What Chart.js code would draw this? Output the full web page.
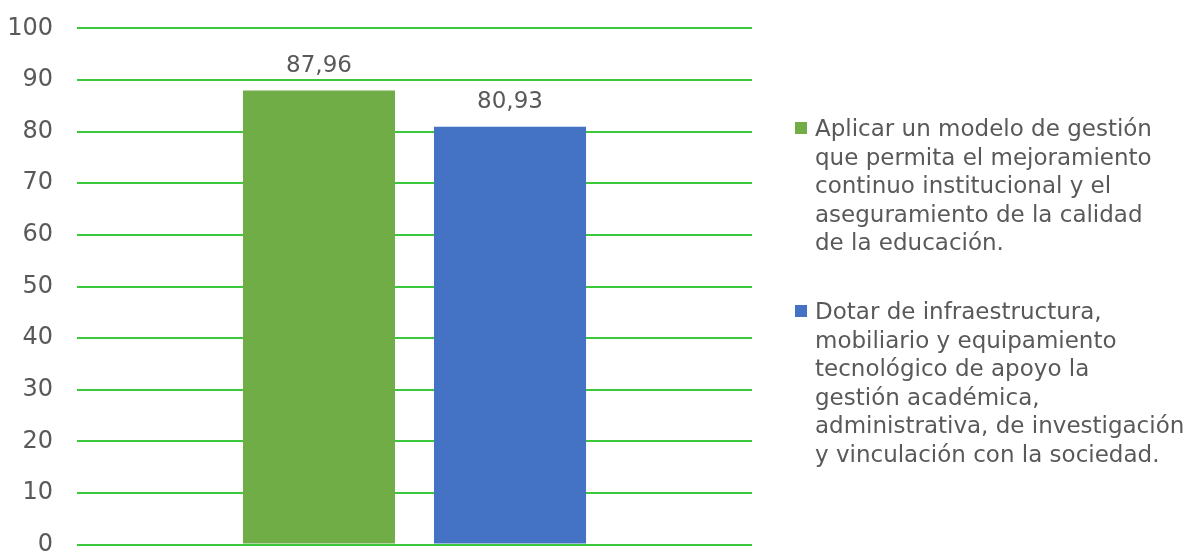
<!DOCTYPE html>
<html>
<head>
<meta charset="utf-8">
<script src="https://cdn.jsdelivr.net/npm/chart.js@4/dist/chart.umd.min.js"></script>
<style>
  html, body { margin: 0; padding: 0; background: #fff; overflow: hidden; }
  #wrap { position: relative; width: 1184px; height: 553px; overflow: hidden; }
  #chart-box { position: absolute; left: 0; top: -10px; width: 1184px; height: 593px; }
  #legend { position: absolute; left: 795px; top: 114px; width: 389px; white-space: nowrap;
    font-family: "DejaVu Sans", sans-serif; font-size: 23px; line-height: 28.6px; color: #595959; }
  .item { position: relative; padding-left: 20px; margin-bottom: 40px; }
  .box { position: absolute; left: 0; top: 8px; width: 12px; height: 12px; }
</style>
</head>
<body>
<div id="wrap">
  <div id="chart-box"><canvas id="chart"></canvas></div>
  <div id="legend"></div>
</div>
<script>
// data
const categories = [""];
const seriesNames = [
    ["Aplicar un modelo de gestión", "que permita el mejoramiento", "continuo institucional y el",
     "aseguramiento de la calidad", "de la educación."],
    ["Dotar de infraestructura,", "mobiliario y equipamiento", "tecnológico de apoyo la",
     "gestión académica,", "administrativa, de investigación", "y vinculación con la sociedad."]
];
const seriesValues = [[87.96], [80.93]];
const seriesColors = ["#70AD47", "#4472C4"];
const yTicks = [0, 10, 20, 30, 40, 50, 60, 70, 80, 90, 100];

const textColor = "#595959";
const fontFamily = "'DejaVu Sans', sans-serif";

// value labels above the bars
const valueLabels = {
    id: "valueLabels",
    afterDatasetsDraw(chart) {
        const ctx = chart.ctx;
        ctx.save();
        ctx.fillStyle = textColor;
        ctx.font = "23px " + fontFamily;
        ctx.textAlign = "center";
        ctx.textBaseline = "bottom";
        chart.data.datasets.forEach(function(ds, i) {
            chart.getDatasetMeta(i).data.forEach(function(bar, j) {
                const txt = ds.data[j].toFixed(2).replace(".", ",");
                ctx.fillText(txt, bar.x, bar.y - 13);
            });
        });
        ctx.restore();
    }
};

const chart = new Chart(document.getElementById("chart"), {
    type: "bar",
    data: {
        labels: categories,
        datasets: seriesNames.map(function(name, i) {
            return {
                label: name,
                data: seriesValues[i],
                backgroundColor: seriesColors[i],
                categoryPercentage: 0.566,
                barPercentage: 0.796
            };
        })
    },
    options: {
        responsive: true,
        maintainAspectRatio: false,
        animation: false,
        layout: { padding: { top: 18, right: 432, bottom: 22, left: 0 } },
        plugins: {
            legend: { display: false },
            tooltip: { enabled: false }
        },
        scales: {
            x: { display: false },
            y: {
                min: 0,
                max: 100,
                afterBuildTicks: function(scale) {
                    scale.ticks = yTicks.map(function(v) { return { value: v }; });
                },
                afterFit: function(scale) { scale.width = 77; },
                border: { display: false },
                grid: { color: "#3CC83C", lineWidth: 2, drawTicks: false },
                ticks: {
                    color: textColor,
                    padding: 24,
                    font: { family: fontFamily, size: 24 }
                }
            }
        }
    },
    plugins: [valueLabels]
});

// html legend, one line per entry of the label array
const legend = document.getElementById("legend");
chart.data.datasets.forEach(function(ds) {
    const item = document.createElement("div");
    item.className = "item";
    const box = document.createElement("span");
    box.className = "box";
    box.style.background = ds.backgroundColor;
    item.appendChild(box);
    ds.label.forEach(function(line, k) {
        if (k > 0) item.appendChild(document.createElement("br"));
        item.appendChild(document.createTextNode(line));
    });
    legend.appendChild(item);
});
</script>
</body>
</html>
